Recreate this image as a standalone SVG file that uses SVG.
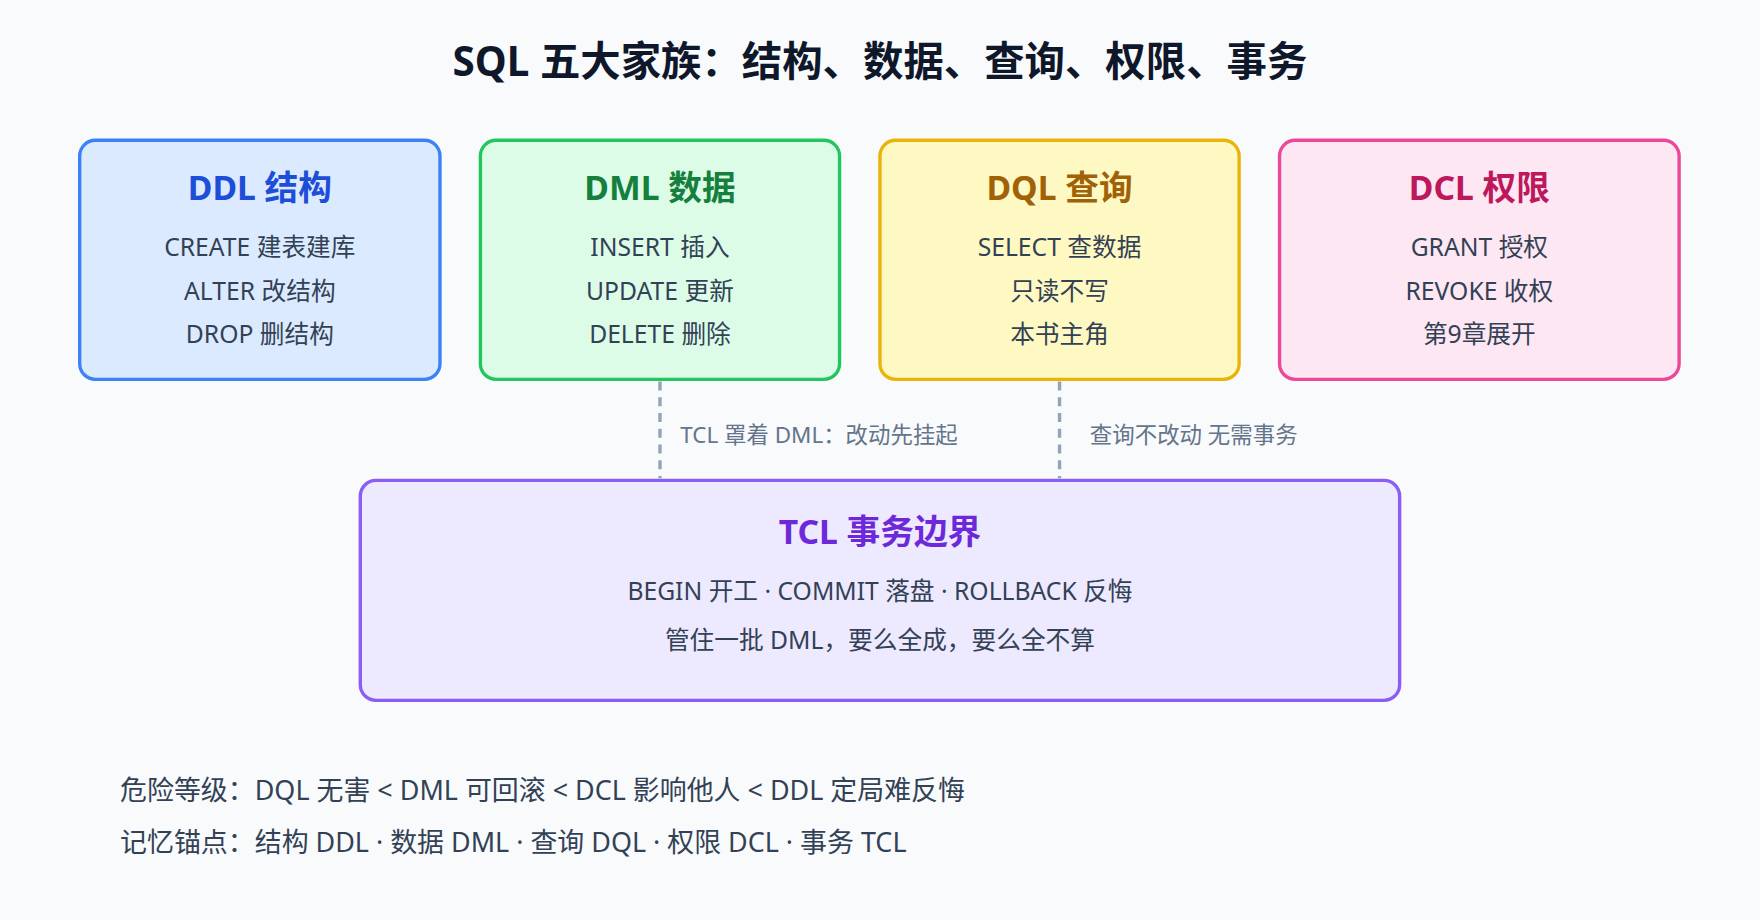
<svg xmlns="http://www.w3.org/2000/svg" width="1760" height="920" viewBox="0 0 1760 920">
<style>
text{font-family:"Noto Sans","Noto Sans CJK SC",sans-serif;text-anchor:middle}
.t{font-size:30px;font-weight:700}
.l{font-size:22px;fill:#334155}
.c{font-size:20px;fill:#64748b;text-anchor:start}
.b{font-size:24px;fill:#334155;text-anchor:start}
.box{stroke-width:3}
</style>
<rect width="1760" height="920" fill="#f8fafc"/>
<g transform="scale(1.1224)">
<text x="784" y="68" style="font-size:36px;font-weight:700;fill:#0f172a">SQL 五大家族：结构、数据、查询、权限、事务</text>
<g id="connectors" stroke="#94a3b8" stroke-width="3" stroke-dasharray="8 6">
<line x1="588" y1="340" x2="588" y2="426"/>
<line x1="944" y1="340" x2="944" y2="426"/>
</g>
<text class="c" x="606" y="395">TCL 罩着 DML：改动先挂起</text>
<text class="c" x="971" y="395">查询不改动 无需事务</text>
<g id="ddl"><rect class="box" x="71" y="125" width="321" height="213" rx="14" fill="#dbeafe" stroke="#3b82f6"/>
<text class="t" x="231.5" y="178" fill="#1d4ed8">DDL 结构</text>
<text class="l" x="231.5" y="228">CREATE 建表建库</text><text class="l" x="231.5" y="267">ALTER 改结构</text><text class="l" x="231.5" y="306">DROP 删结构</text></g>
<g id="dml"><rect class="box" x="428" y="125" width="320" height="213" rx="14" fill="#dcfce7" stroke="#22c55e"/>
<text class="t" x="588" y="178" fill="#15803d">DML 数据</text>
<text class="l" x="588" y="228">INSERT 插入</text><text class="l" x="588" y="267">UPDATE 更新</text><text class="l" x="588" y="306">DELETE 删除</text></g>
<g id="dql"><rect class="box" x="784" y="125" width="320" height="213" rx="14" fill="#fef9c3" stroke="#eab308"/>
<text class="t" x="944" y="178" fill="#a16207">DQL 查询</text>
<text class="l" x="944" y="228">SELECT 查数据</text><text class="l" x="944" y="267">只读不写</text><text class="l" x="944" y="306">本书主角</text></g>
<g id="dcl"><rect class="box" x="1140" y="125" width="356" height="213" rx="14" fill="#fce7f3" stroke="#ec4899"/>
<text class="t" x="1318" y="178" fill="#be185d">DCL 权限</text>
<text class="l" x="1318" y="228">GRANT 授权</text><text class="l" x="1318" y="267">REVOKE 收权</text><text class="l" x="1318" y="306">第9章展开</text></g>
<g id="tcl"><rect class="box" x="321" y="428" width="926" height="196" rx="14" fill="#ede9fe" stroke="#8b5cf6"/>
<text class="t" x="784" y="485" fill="#6d28d9">TCL 事务边界</text>
<text class="l" x="784" y="535">BEGIN 开工 · COMMIT 落盘 · ROLLBACK 反悔</text>
<text class="l" x="784" y="578">管住一批 DML，要么全成，要么全不算</text></g>
<text class="b" x="107" y="713">危险等级：DQL 无害 &lt; DML 可回滚 &lt; DCL 影响他人 &lt; DDL 定局难反悔</text>
<text class="b" x="107" y="759">记忆锚点：结构 DDL · 数据 DML · 查询 DQL · 权限 DCL · 事务 TCL</text>
</g>
</svg>
